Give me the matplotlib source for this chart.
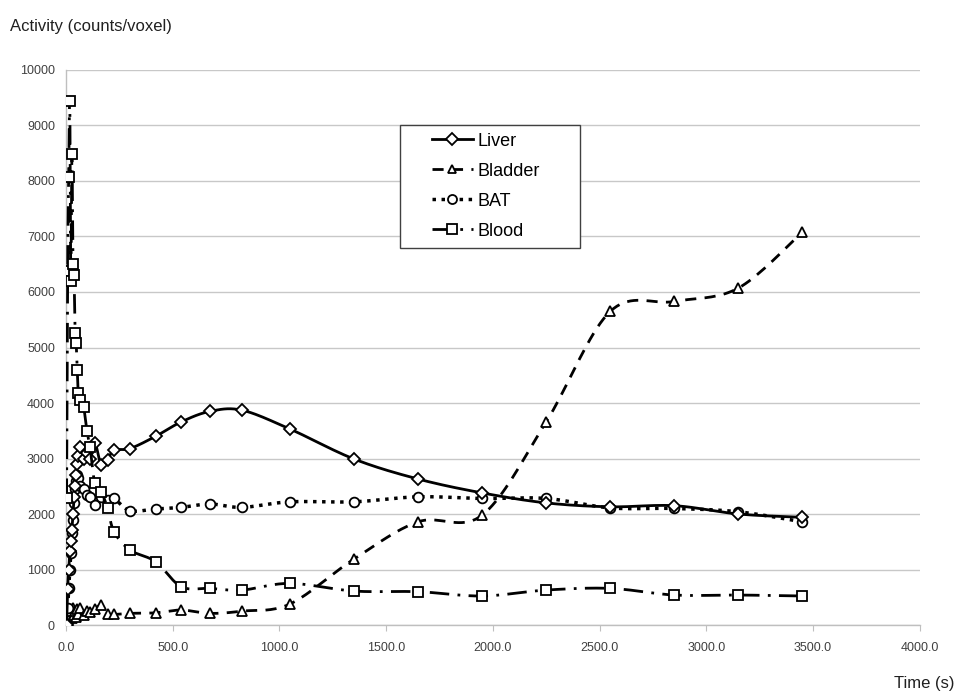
import matplotlib
matplotlib.use("Agg")
import numpy as np
import matplotlib.pyplot as plt
from matplotlib.ticker import FormatStrFormatter, MultipleLocator
from matplotlib.lines import Line2D
from matplotlib.patches import Rectangle

plt.rcParams['font.family'] = ['Liberation Sans', 'DejaVu Sans']

# frame mid-times (s)
time = [2.5, 7.5, 12.5, 17.5, 22.5, 27.5, 32.5, 37.5, 42.5, 47.5, 52.5, 57.5,
        67.5, 82.5, 97.5, 112.5, 135, 165, 195, 225, 300, 420, 540, 675, 825,
        1050, 1350, 1650, 1950, 2250, 2550, 2850, 3150, 3450]

liver = [0, 650, 1000, 1330, 1520, 1710, 2000, 2300, 2500, 2700, 2900, 3050,
         3200, 3000, 3100, 3000, 3280, 2880, 2980, 3150, 3180, 3400, 3660, 3850, 3870,
         3530, 2990, 2630, 2380, 2200, 2130, 2150, 2000, 1940]

bladder = [0, 100, 200, 150, 250, 120, 300, 180, 250, 150, 280, 200,
           300, 180, 250, 230, 280, 360, 190, 190, 210, 220, 270, 210, 250,
           380, 1190, 1860, 1980, 3660, 5650, 5830, 6070, 7080]

bat = [0, 300, 660, 990, 1290, 1650, 1890, 2200, 2450, 2600, 2700, 2650,
       2500, 2450, 2350, 2300, 2160, 2300, 2250, 2280, 2060, 2090, 2120, 2180, 2120,
       2220, 2220, 2310, 2280, 2280, 2110, 2100, 2040, 1860]

blood = [2290, 6380, 8070, 9450, 6200, 8490, 6500, 6300, 5270, 5080, 4600, 4180,
         4050, 3930, 3500, 3200, 2550, 2400, 2100, 1680, 1350, 1140, 690, 660, 630,
         750, 612, 600, 523, 630, 660, 540, 540, 523]

series_names = ['Liver', 'Bladder', 'BAT', 'Blood']


def smooth(x, y, n=20):
    """Excel-style smoothed line (Catmull-Rom Bezier) through the points."""
    x = np.asarray(x, float)
    y = np.asarray(y, float)
    P = np.column_stack([x, y])
    out = [P[0]]
    t = np.linspace(0, 1, n)[1:, None]
    for i in range(len(P) - 1):
        p0 = P[i - 1] if i > 0 else P[i]
        p1, p2 = P[i], P[i + 1]
        p3 = P[i + 2] if i + 2 < len(P) else P[i + 1]
        b1 = p1 + (p2 - p0) / 6.0
        b2 = p2 - (p3 - p1) / 6.0
        seg = ((1 - t) ** 3) * p1 + 3 * ((1 - t) ** 2) * t * b1 + 3 * (1 - t) * t ** 2 * b2 + t ** 3 * p2
        out.extend(seg)
    out = np.array(out)
    return out[:, 0], out[:, 1]


fig = plt.figure(figsize=(9.57, 6.95), dpi=100)
ax = fig.add_axes([0.069, 0.1007, 0.892, 0.7986])

styles = {
    'Liver': dict(ls='-', lw=2, marker='D', ms=6.5, z=4),
    'Bladder': dict(ls=(0, (4, 3)), lw=2, marker='^', ms=6.5, z=3),
    'BAT': dict(ls=(0, (1, 1.6)), lw=2.5, marker='o', ms=7, z=3),
    'Blood': dict(ls=(0, (7, 3, 1, 3)), lw=2, marker='s', ms=7, z=5),
}
data = {'Liver': liver, 'Bladder': bladder, 'BAT': bat, 'Blood': blood}

handles = []
for name in series_names:
    st = styles[name]
    sx, sy = smooth(time, data[name])
    ax.plot(sx, sy, color='black', linestyle=st['ls'], lw=st['lw'], zorder=st['z'])
    ax.plot(time, data[name], linestyle='none', marker=st['marker'], markersize=st['ms'],
            markerfacecolor='white', markeredgecolor='black', markeredgewidth=1.3,
            zorder=st['z'] + 0.5)
    handles.append(Line2D([], [], color='black', linestyle=st['ls'], lw=st['lw'],
                          marker=st['marker'], markersize=st['ms'] - 0.5,
                          markerfacecolor='white', markeredgecolor='black',
                          markeredgewidth=1.3))

ax.set_xlim(0, 4000)
ax.set_ylim(0, 10000)
ax.xaxis.set_major_locator(MultipleLocator(500))
ax.yaxis.set_major_locator(MultipleLocator(1000))
ax.xaxis.set_major_formatter(FormatStrFormatter('%.1f'))

ax.grid(axis='y', color='#c8c8c8', lw=1)
ax.set_axisbelow(True)
for s in ['top', 'right']:
    ax.spines[s].set_visible(False)
for s in ['left', 'bottom']:
    ax.spines[s].set_color('#bfbfbf')
    ax.spines[s].set_linewidth(1)
ax.tick_params(axis='y', length=0, labelsize=9, colors='#404040', pad=8)
ax.tick_params(axis='x', length=4, color='#bfbfbf', labelsize=9, labelcolor='#404040', pad=8)

fig.text(0.010, 0.962, 'Activity (counts/voxel)', fontsize=12, color='#202020', ha='left', va='center')
fig.text(0.997, 0.017, 'Time (s)', fontsize=12, color='#202020', ha='right', va='center')

# legend frame (pixel box 400..580 x 125..248)
fx0, fy0 = 400 / 957, 1 - 248 / 695
fig.patches.append(Rectangle((fx0, fy0), 180 / 957, 123 / 695, transform=fig.transFigure,
                             facecolor='white', edgecolor='#404040', lw=1, zorder=10))
leg = fig.legend(handles, series_names, loc='upper left',
                 bbox_to_anchor=(428 / 957, 1 - 129 / 695), frameon=False,
                 fontsize=13, handlelength=2.3, borderpad=0.2,
                 labelspacing=0.72, handletextpad=0.25, borderaxespad=0)
leg.set_zorder(11)

fig.savefig('out.png', dpi=100)
